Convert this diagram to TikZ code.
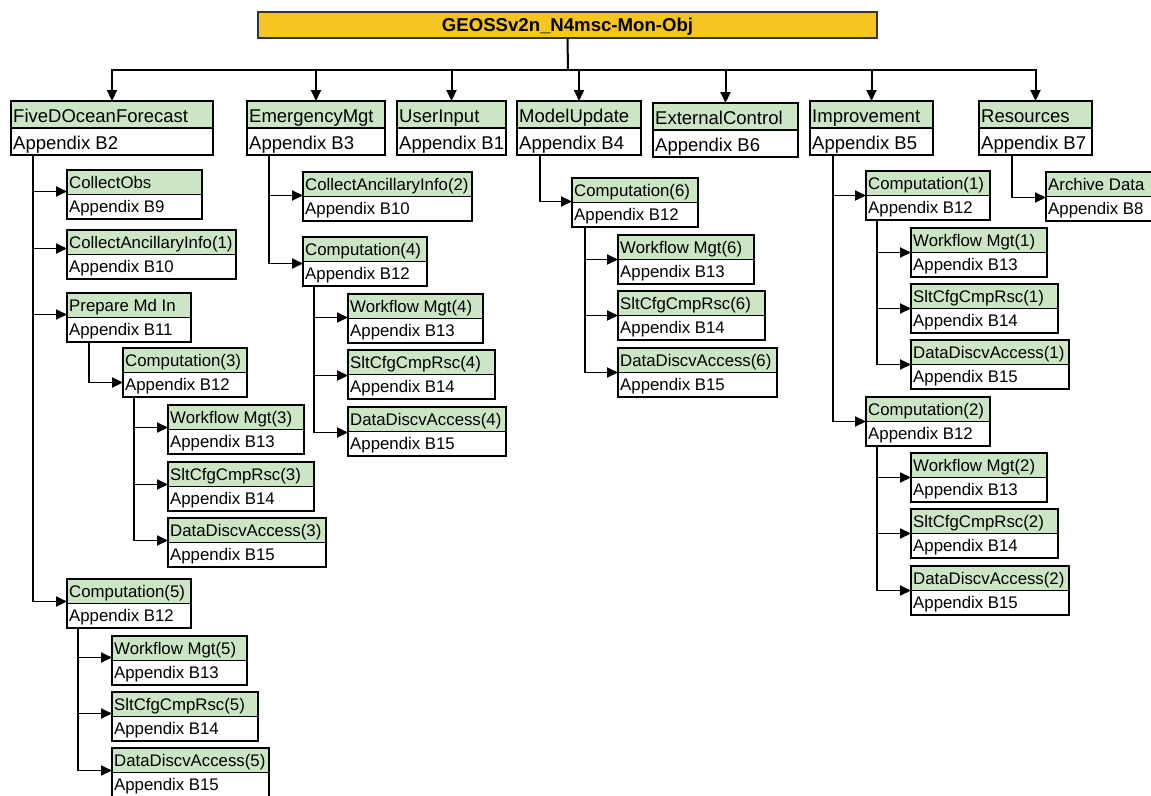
\documentclass[tikz,border=0pt]{standalone}
\usepackage{fontspec}
\setmainfont{Liberation Sans}
\usetikzlibrary{arrows.meta}

\definecolor{rowgreen}{RGB}{204,230,197}
\definecolor{titlegold}{RGB}{245,197,34}

\tikzset{
  rowbox/.style={draw=black, line width=1.6pt, inner sep=0pt, outer sep=0pt, anchor=north west},
  toptext/.style={font=\fontsize{18.5}{20}\selectfont, anchor=base west, inner sep=0pt},
  subtext/.style={font=\fontsize{16.8}{18}\selectfont, anchor=base west, inner sep=0pt},
  conn/.style={line width=1.8pt, -{Triangle[length=11pt,width=10pt]}},
  busline/.style={line width=2pt},
  titlebox/.style={draw=black!80, line width=1.4pt, fill=titlegold, anchor=north west,
    inner sep=0pt, outer sep=0pt, font=\bfseries\fontsize{18.6}{20}\selectfont,
    text height=13.4pt, text depth=0pt}
}

% two-row box: #1 name, #2 x, #3 y, #4 width, #5 row height,
% #6 baseline drop, #7 text style, #8 title, #9 appendix
\newcommand{\tierbox}[9]{%
  \node[rowbox, fill=rowgreen, minimum width=#4pt, minimum height=#5pt] (#1) at (#2,#3) {};
  \node[rowbox, fill=white, minimum width=#4pt, minimum height=#5pt] (#1-b) at (#1.south west) {};
  \node[#7] (#1-t) at ([xshift=2pt,yshift=-#6pt]#1.north west) {#8};
  \node[#7] (#1-bt) at ([xshift=2pt,yshift=-#6pt]#1-b.north west) {#9};
}
\newcommand{\topbox}[6]{\tierbox{#1}{#2}{#3}{#4}{27}{21.7}{toptext}{#5}{#6}}
\newcommand{\subbox}[6]{\tierbox{#1}{#2}{#3}{#4}{24.5}{18.3}{subtext}{#5}{#6}}
% elbow connector: parent, trunk offset, child, tip offset
\newcommand{\link}[4]{\draw[conn] ([xshift=#2pt]#1-b.south west) |- ([yshift=#4pt]#3.south west);}

\begin{document}
\begin{tikzpicture}[x=1pt, y=-1pt]
\useasboundingbox (0,0) rectangle (1151,795);

% root
\node[titlebox, minimum width=619pt, minimum height=26pt] (title) at (258,12) {GEOSSv2n\_N4msc-Mon-Obj};

% first tier
\topbox{five}{11}{101}{202}{FiveDOceanForecast}{Appendix B2}
\topbox{emerg}{247}{101}{138}{EmergencyMgt}{Appendix B3}
\topbox{user}{397}{101}{109}{UserInput}{Appendix B1}
\topbox{model}{517}{101}{124}{ModelUpdate}{Appendix B4}
\topbox{ext}{653}{103}{145}{ExternalControl}{Appendix B6}
\topbox{impr}{810}{101}{123}{Improvement}{Appendix B5}
\topbox{res}{979}{101}{113}{Resources}{Appendix B7}

% FiveDOceanForecast branch
\subbox{cobs}{67}{170}{135}{CollectObs}{Appendix B9}
\subbox{cai1}{67}{230}{169}{CollectAncillaryInfo(1)}{Appendix B10}
\subbox{prep}{67}{293}{124}{Prepare Md In}{Appendix B11}
\subbox{comp3}{123}{348}{124}{Computation(3)}{Appendix B12}
\subbox{wf3}{168}{405}{136}{Workflow Mgt(3)}{Appendix B13}
\subbox{slt3}{168}{462}{146}{SltCfgCmpRsc(3)}{Appendix B14}
\subbox{dda3}{168}{518}{158}{DataDiscvAccess(3)}{Appendix B15}
\subbox{comp5}{67}{579}{124}{Computation(5)}{Appendix B12}
\subbox{wf5}{112}{636}{135}{Workflow Mgt(5)}{Appendix B13}
\subbox{slt5}{112}{692}{146}{SltCfgCmpRsc(5)}{Appendix B14}
\subbox{dda5}{112}{748}{157}{DataDiscvAccess(5)}{Appendix B15}

% EmergencyMgt branch
\subbox{cai2}{303}{172}{169}{CollectAncillaryInfo(2)}{Appendix B10}
\subbox{comp4}{303}{237}{124}{Computation(4)}{Appendix B12}
\subbox{wf4}{348}{294}{135}{Workflow Mgt(4)}{Appendix B13}
\subbox{slt4}{348}{350}{147}{SltCfgCmpRsc(4)}{Appendix B14}
\subbox{dda4}{348}{407}{158}{DataDiscvAccess(4)}{Appendix B15}

% ModelUpdate branch
\subbox{comp6}{572}{178}{126}{Computation(6)}{Appendix B12}
\subbox{wf6}{618}{235}{136}{Workflow Mgt(6)}{Appendix B13}
\subbox{slt6}{618}{291}{147}{SltCfgCmpRsc(6)}{Appendix B14}
\subbox{dda6}{618}{348}{159}{DataDiscvAccess(6)}{Appendix B15}

% Improvement branch
\subbox{comp1}{866}{171}{124}{Computation(1)}{Appendix B12}
\subbox{wf1}{911}{228}{136}{Workflow Mgt(1)}{Appendix B13}
\subbox{slt1}{911}{284}{147}{SltCfgCmpRsc(1)}{Appendix B14}
\subbox{dda1}{911}{340}{158}{DataDiscvAccess(1)}{Appendix B15}
\subbox{comp2}{866}{397}{124}{Computation(2)}{Appendix B12}
\subbox{wf2}{911}{453}{136}{Workflow Mgt(2)}{Appendix B13}
\subbox{slt2}{911}{509}{147}{SltCfgCmpRsc(2)}{Appendix B14}
\subbox{dda2}{911}{566}{158}{DataDiscvAccess(2)}{Appendix B15}

% Resources branch
\subbox{arch}{1046}{172}{110}{Archive Data}{Appendix B8}

% bus from the root to the first tier
\coordinate (bus) at (568,70);
\draw[busline] (title.south) -- (bus);
\foreach \n in {five,emerg,user,model,ext,impr,res}
  \draw[conn, line width=2pt] (bus) -| (\n.north);

% elbow connectors
\link{five}{22}{cobs}{3}
\link{five}{22}{cai1}{6}
\link{five}{22}{prep}{3}
\link{five}{22}{comp5}{2}
\link{prep}{22}{comp3}{-10}
\link{comp3}{11}{wf3}{2}
\link{comp3}{11}{slt3}{2}
\link{comp3}{11}{dda3}{2}
\link{comp5}{11}{wf5}{3}
\link{comp5}{11}{slt5}{3}
\link{comp5}{11}{dda5}{2}

\link{emerg}{22}{cai2}{1}
\link{emerg}{22}{comp4}{-2}
\link{comp4}{11}{wf4}{1}
\link{comp4}{11}{slt4}{-1}
\link{comp4}{11}{dda4}{-1}

\link{model}{23}{comp6}{1}
\link{comp6}{13}{wf6}{0}
\link{comp6}{13}{slt6}{0}
\link{comp6}{13}{dda6}{0}

\link{impr}{23}{comp1}{0}
\link{impr}{23}{comp2}{0}
\link{comp1}{11}{wf1}{0}
\link{comp1}{11}{slt1}{0}
\link{comp1}{11}{dda1}{0}
\link{comp2}{11}{wf2}{0}
\link{comp2}{11}{slt2}{0}
\link{comp2}{11}{dda2}{0}

\link{res}{33}{arch}{-1}
\end{tikzpicture}
\end{document}
